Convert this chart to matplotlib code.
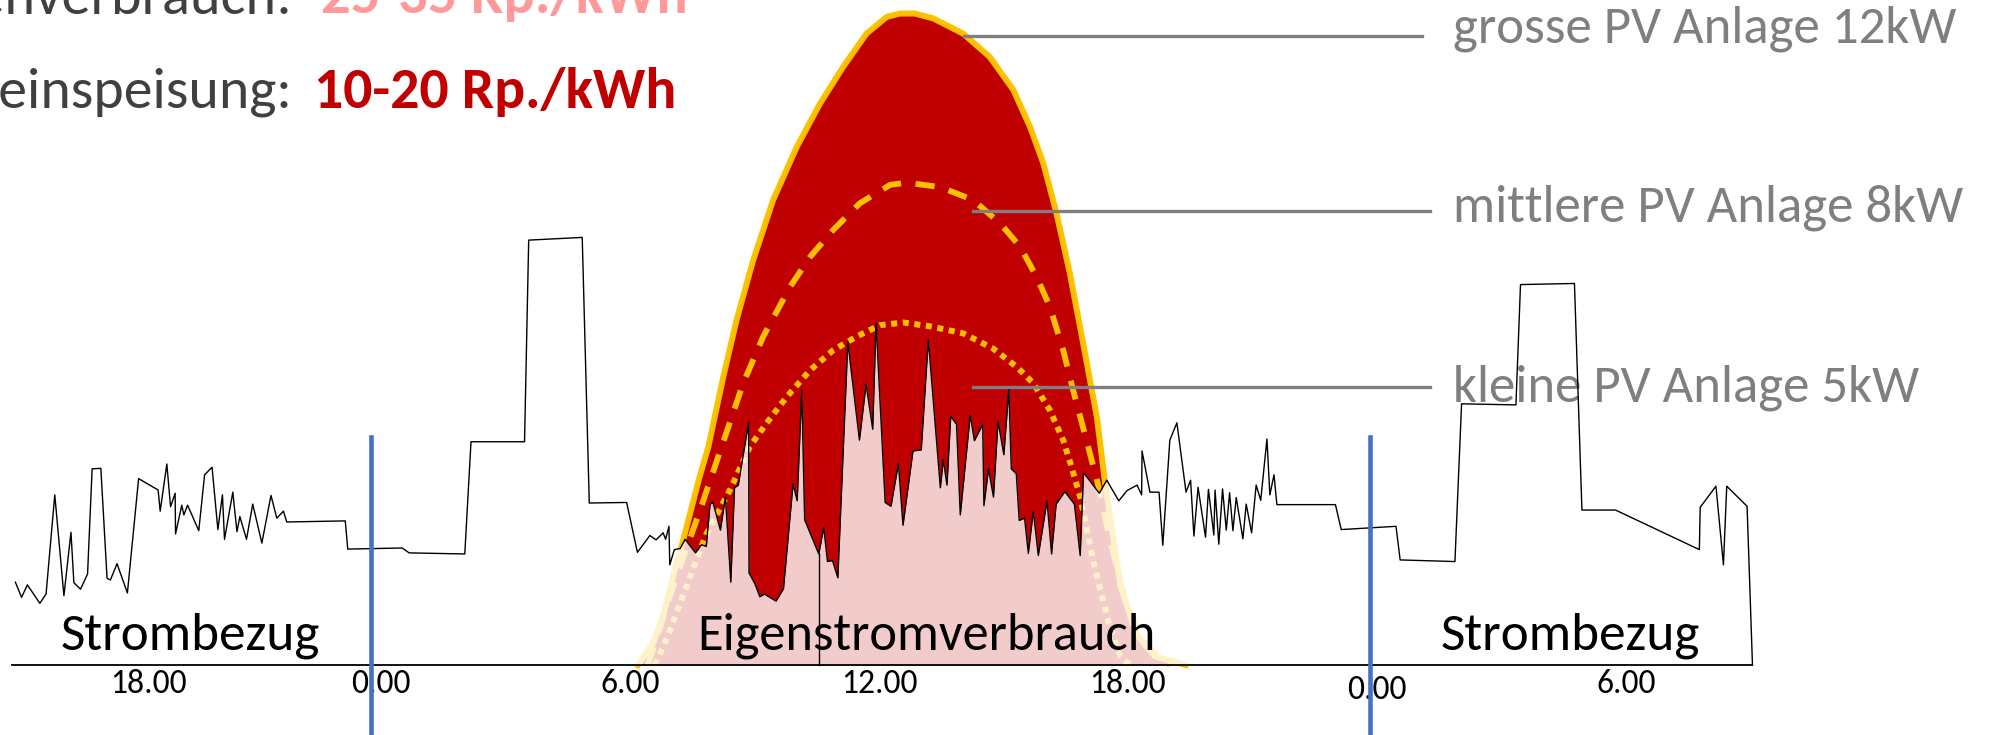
import matplotlib
matplotlib.use('Agg')
import matplotlib.pyplot as plt
from matplotlib import font_manager

# pick a Calibri-like font if there is one
names = {f.name for f in font_manager.fontManager.ttflist}
font = next(n for n in ['Carlito', 'Calibri', 'Lato', 'Open Sans', 'DejaVu Sans'] if n in names)
plt.rcParams['font.family'] = font

# household consumption (hours from midnight of day 1, kW)
cons_h = [-8.81, -8.66, -8.52, -8.22, -8.07, -7.86, -7.64, -7.47, -7.40, -7.24,
          -7.07, -6.96, -6.75, -6.60, -6.52, -6.36, -6.11, -5.84, -5.37, -5.32,
          -5.16, -5.07, -4.96, -4.95, -4.80, -4.75, -4.66, -4.39, -4.25, -4.07,
          -3.93, -3.82, -3.77, -3.57, -3.47, -3.40, -3.24, -3.09, -2.87, -2.65,
          -2.51, -2.35, -2.27, -0.86, -0.80, 0.51, 0.68, 2.02, 2.17, 3.46,
          3.56, 4.85, 5.02, 5.92, 6.18, 6.48, 6.63, 6.80, 6.86, 6.94,
          6.96, 7.07, 7.21, 7.33, 7.58, 7.72, 7.84, 7.93, 8.00, 8.18,
          8.30, 8.43, 8.52, 8.61, 8.86, 8.87, 9.01, 9.13, 9.24, 9.52,
          9.70, 9.93, 10.03, 10.14, 10.21, 10.55, 10.67, 10.76, 10.88, 11.01,
          11.25, 11.53, 11.69, 11.85, 11.93, 12.15, 12.29, 12.47, 12.58, 12.82,
          13.02, 13.19, 13.48, 13.55, 13.64, 13.73, 13.87, 13.96, 14.20, 14.30,
          14.50, 14.53, 14.64, 14.76, 14.87, 15.01, 15.13, 15.19, 15.31, 15.38,
          15.51, 15.60, 15.72, 15.84, 16.05, 16.16, 16.27, 16.48, 16.71, 16.85,
          16.93, 17.31, 17.49, 17.78, 17.98, 18.22, 18.33, 18.34, 18.53, 18.75,
          18.84, 19.01, 19.18, 19.40, 19.51, 19.59, 19.69, 19.87, 19.94, 20.07,
          20.10, 20.19, 20.28, 20.37, 20.45, 20.53, 20.61, 20.77, 20.85, 20.98,
          21.09, 21.20, 21.35, 21.42, 21.52, 21.59, 23.00, 23.14, 24.46, 24.56,
          25.88, 26.04, 27.35, 27.46, 28.76, 28.94, 29.75, 31.77, 31.79, 32.17,
          32.35, 32.43, 32.92, 33.05]
cons_kw = [1.53, 1.25, 1.48, 1.14, 1.31, 3.14, 1.28, 2.45, 1.52, 1.40,
           1.68, 3.62, 3.63, 1.60, 1.57, 1.87, 1.33, 3.44, 3.23, 2.84,
           3.71, 2.92, 3.17, 2.42, 2.95, 2.77, 2.95, 2.48, 3.51, 3.65,
           2.50, 3.14, 2.32, 3.19, 2.46, 2.74, 2.32, 2.97, 2.25, 3.13,
           2.71, 2.84, 2.64, 2.66, 2.14, 2.16, 2.07, 2.05, 4.12, 4.12,
           7.84, 7.89, 2.99, 3.00, 2.08, 2.39, 2.31, 2.44, 2.32, 2.56,
           1.85, 2.13, 2.15, 2.32, 2.07, 2.22, 2.19, 2.97, 3.00, 2.49,
           3.10, 1.53, 3.27, 3.32, 4.48, 1.70, 1.50, 1.26, 1.31, 1.18,
           1.41, 3.34, 3.03, 5.07, 2.68, 2.05, 2.54, 1.91, 1.93, 1.61,
           5.96, 4.15, 5.18, 4.35, 6.32, 3.00, 2.93, 3.72, 2.58, 3.95,
           3.97, 6.00, 3.27, 3.79, 3.32, 4.59, 4.44, 2.77, 4.61, 4.14,
           4.44, 2.94, 3.62, 3.10, 4.50, 3.88, 5.09, 3.62, 3.53, 2.67,
           2.71, 2.06, 2.84, 2.02, 3.03, 2.05, 2.97, 3.20, 2.97, 2.02,
           3.55, 3.17, 3.41, 3.03, 3.22, 3.32, 3.14, 3.95, 3.19, 3.19,
           2.21, 4.15, 4.47, 3.19, 3.41, 2.38, 3.28, 2.36, 3.24, 2.40,
           3.23, 2.23, 3.25, 2.49, 3.18, 2.48, 3.09, 2.33, 2.97, 2.44,
           3.32, 3.04, 4.17, 3.14, 3.51, 2.96, 2.96, 2.50, 2.56, 1.94,
           1.91, 4.82, 4.80, 7.02, 7.04, 2.86, 2.86, 2.13, 2.91, 3.30,
           1.85, 3.30, 2.93, 0]
# stray drop to zero in the original trace
glitch_h = 10.55
glitch_kw = 2.05

# PV production curves
big_h = [6.19, 6.57, 6.84, 7.12, 7.26, 7.67, 7.89, 8.25, 8.57, 8.97, 9.45, 10.02, 10.58,
         11.14, 11.70, 12.19, 12.51, 12.87, 13.31, 14.03, 14.67, 15.24, 15.64, 15.96,
         16.28, 16.60, 16.92, 17.25, 17.45, 17.82, 18.19, 18.65, 19.39]
big_kw = [0, 0.42, 1.02, 1.89, 2.24, 3.45, 4.03, 5.32, 6.37, 7.47, 8.58, 9.56, 10.36,
          11.04, 11.65, 11.96, 12.02, 12.02, 11.93, 11.65, 11.22, 10.61, 9.93, 9.26,
          8.33, 7.23, 5.94, 4.58, 3.36, 1.46, 0.59, 0.16, 0]
mid_h = [6.43, 6.72, 7.01, 7.33, 7.69, 8.21, 8.73, 9.21, 9.86, 10.34, 10.90, 11.54, 12.27,
         12.67, 13.47, 14.27, 14.92, 15.40, 15.80, 16.12, 16.44, 16.68, 17.00, 17.27,
         17.57, 17.93, 18.41, 19.01]
mid_kw = [0, 0.68, 1.38, 2.08, 2.86, 4.03, 5.20, 6.06, 6.98, 7.53, 8.03, 8.52, 8.86,
          8.90, 8.82, 8.58, 8.15, 7.72, 7.16, 6.61, 5.81, 5.07, 4.15, 3.36,
          2.31, 1.20, 0.37, 0]
small_h = [6.60, 6.92, 7.30, 7.83, 8.41, 8.89, 9.29, 9.78, 10.34, 10.90, 11.46,
           12.02, 12.59, 13.23, 14.03, 14.75, 15.32, 15.72, 16.12, 16.44, 16.62, 16.85,
           17.17, 17.54, 17.82, 18.05]
small_kw = [0, 0.55, 1.33, 2.40, 3.23, 4.03, 4.46, 4.95, 5.44, 5.81, 6.06,
            6.27, 6.32, 6.25, 6.12, 5.84, 5.50, 5.20, 4.70, 4.15, 3.71, 3.10,
            1.89, 0.77, 0.16, 0]

pv_labels = ['grosse PV Anlage 12kW', 'mittlere PV Anlage 8kW', 'kleine PV Anlage 5kW']
pv_label_kw = [11.61, 8.38, 5.13]

tick_labels = ['18.00', '0.00', '6.00', '12.00', '18.00', '0.00', '6.00']
tick_h = [-5.6, 0, 6, 12, 18, 24, 30]
midnights = [-0.24, 23.84]

RED = '#C00000'
ORANGE = '#FFC000'
GRAY = '#7F7F7F'
BLUE = '#4472C4'

fig = plt.figure(figsize=(19.94, 7.35), dpi=100)
ax = fig.add_axes([0, 0, 1, 1])
ax.set_xlim(-9.18, 38.87)
ax.set_ylim(-1.29, 12.27)
ax.axis('off')

# PV areas and curves
ax.fill_between(big_h, 0, big_kw, color=RED, lw=0, zorder=1)
ax.plot(mid_h, mid_kw, color=ORANGE, lw=4.2, ls=(0, (3.3, 2.5)), zorder=2)
ax.plot(small_h, small_kw, color=ORANGE, lw=4.3, ls=(0, (1.0, 0.95)), zorder=2)
ax.plot(big_h, big_kw, color=ORANGE, lw=4.3, zorder=3, solid_joinstyle='round')

# what the house uses itself gets washed out
ax.fill_between(cons_h, 0, cons_kw, color='white', alpha=0.8, lw=0, zorder=4)
ax.plot(cons_h, cons_kw, color='black', lw=1.0, zorder=5)
ax.plot([glitch_h, glitch_h], [0, glitch_kw], color='black', lw=1.0, zorder=5)

# baseline and midnight markers
ax.plot([-8.88, cons_h[-1]], [0, 0], color='black', lw=1.3, zorder=5)
for m in midnights:
    ax.plot([m, m], [4.21, -2], color=BLUE, lw=3.3, zorder=6)

# leader lines + labels
for i, (lab, y) in enumerate(zip(pv_labels, pv_label_kw)):
    x0 = 14.04 if i == 0 else 14.27
    x1 = 25.08 if i == 0 else 25.29
    ax.plot([x0, x1], [y, y], color=GRAY, lw=2.4, zorder=6)

renderer = fig.canvas.get_renderer()


def fit_width(txt, width_h):
    bb = txt.get_window_extent(renderer)
    target = ax.transData.transform((width_h, 0))[0] - ax.transData.transform((0, 0))[0]
    txt.set_fontsize(txt.get_fontsize() * target / bb.width)


pv_txt = []
for lab, y in zip(pv_labels, [11.48, 8.18, 4.86]):
    pv_txt.append(ax.text(25.83, y, lab, color=GRAY, fontsize=28, va='baseline', zorder=4))
fit_width(pv_txt[0], 12.10)
for t in pv_txt[1:]:
    t.set_fontsize(pv_txt[0].get_fontsize())

s1 = ax.text(-7.72, 0.28, 'Strombezug', fontsize=34, va='baseline', zorder=7)
fit_width(s1, 6.25)
ax.text(25.53, 0.28, 'Strombezug', fontsize=s1.get_fontsize(), va='baseline', zorder=7)
e1 = ax.text(7.62, 0.28, 'Eigenstromverbrauch', fontsize=34, va='baseline', zorder=7)
fit_width(e1, 11.05)

ticks = []
for lab, x in zip(tick_labels, tick_h):
    y = -0.63 if (lab == '0.00' and x > 12) else -0.52
    ticks.append(ax.text(x, y, lab, fontsize=20, ha='center', va='baseline', zorder=5))
fit_width(ticks[0], 1.86)
for t in ticks[1:]:
    t.set_fontsize(ticks[0].get_fontsize())

# price lines at the top, partly outside the picture
v1 = ax.text(-1.45, 12.03, '25-35 Rp./kWh', color='#FF9999', fontsize=40,
             fontweight='bold', va='baseline')
fit_width(v1, 8.82)
ax.text(-2.12, 12.03, 'Eigenverbrauch:', color='#404040', fontsize=v1.get_fontsize(),
        ha='right', va='baseline')
v2 = ax.text(-1.61, 10.28, '10-20 Rp./kWh', color=RED, fontsize=40,
             fontweight='bold', va='baseline')
fit_width(v2, 8.72)
ax.text(-2.12, 10.28, 'Netzeinspeisung:', color='#404040', fontsize=v2.get_fontsize(),
        ha='right', va='baseline')

fig.savefig('out.png', dpi=100)
